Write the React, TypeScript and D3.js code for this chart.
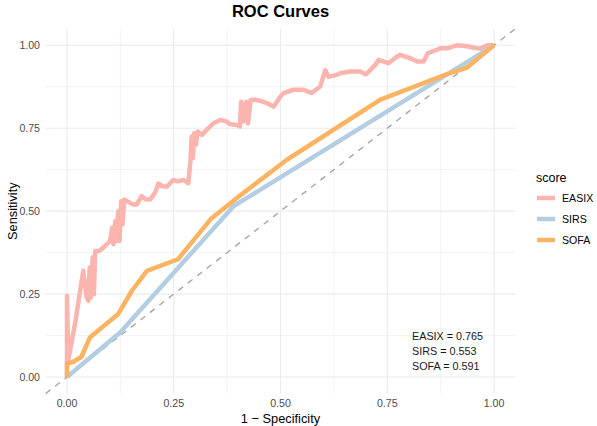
import React from "react";
import * as d3 from "d3";

const W = 597;
const H = 426;

const seriesNames = ["EASIX", "SIRS", "SOFA"];
const seriesColors = ["#FBB4AE", "#B3CDE3", "#FDB462"];
const aucLabels = ["EASIX = 0.765", "SIRS = 0.553", "SOFA = 0.591"];
const tickValues = [0, 0.25, 0.5, 0.75, 1];
const tickLabels = ["0.00", "0.25", "0.50", "0.75", "1.00"];
const minorValues = [0.125, 0.375, 0.625, 0.875];

// [1 - specificity, sensitivity]
const easixPoints: [number, number][] = [
  [0, 0], [0, 0.245], [0.003, 0.05], [0.02, 0.17], [0.038, 0.32], [0.046, 0.24],
  [0.05, 0.23], [0.053, 0.33], [0.056, 0.24], [0.06, 0.36], [0.063, 0.25],
  [0.066, 0.38], [0.075, 0.38], [0.085, 0.39], [0.093, 0.4], [0.101, 0.41],
  [0.106, 0.45], [0.109, 0.4], [0.113, 0.47], [0.116, 0.41], [0.12, 0.5],
  [0.123, 0.41], [0.127, 0.53], [0.13, 0.46], [0.134, 0.535], [0.148, 0.525],
  [0.155, 0.52], [0.163, 0.52], [0.175, 0.545], [0.185, 0.535], [0.195, 0.535],
  [0.206, 0.555], [0.214, 0.583], [0.224, 0.575], [0.234, 0.574], [0.249, 0.594],
  [0.26, 0.59], [0.273, 0.594], [0.284, 0.584], [0.289, 0.65], [0.292, 0.725],
  [0.295, 0.66], [0.298, 0.735], [0.302, 0.7], [0.306, 0.74], [0.316, 0.73],
  [0.327, 0.745], [0.343, 0.765], [0.359, 0.775], [0.374, 0.77], [0.382, 0.762],
  [0.398, 0.76], [0.405, 0.755], [0.408, 0.83], [0.413, 0.77], [0.42, 0.83],
  [0.424, 0.765], [0.43, 0.835], [0.44, 0.836], [0.455, 0.832], [0.468, 0.826],
  [0.484, 0.815], [0.5, 0.846], [0.507, 0.856], [0.53, 0.866], [0.554, 0.866],
  [0.573, 0.856], [0.593, 0.876], [0.605, 0.925], [0.612, 0.905], [0.632, 0.911],
  [0.64, 0.916], [0.663, 0.921], [0.687, 0.921], [0.7, 0.912], [0.722, 0.941],
  [0.73, 0.956], [0.753, 0.946], [0.773, 0.966], [0.78, 0.971], [0.804, 0.961],
  [0.82, 0.951], [0.835, 0.951], [0.845, 0.976], [0.866, 0.986], [0.874, 0.991],
  [0.89, 0.991], [0.913, 1.0], [0.937, 0.997], [0.96, 0.991], [0.968, 0.99],
  [0.984, 1.0], [1, 1],
];

const sirsPoints: [number, number][] = [
  [0, 0], [0.125, 0.135], [0.39, 0.515], [1, 1],
];

const sofaPoints: [number, number][] = [
  [0, 0], [0, 0.04], [0.015, 0.046], [0.034, 0.061], [0.054, 0.12], [0.12, 0.19],
  [0.152, 0.26], [0.187, 0.32], [0.26, 0.355], [0.338, 0.478], [0.398, 0.54],
  [0.515, 0.655], [0.734, 0.836], [0.89, 0.913], [0.937, 0.933], [1, 1],
];

const allSeries = [easixPoints, sirsPoints, sofaPoints];

const FONT = "'Liberation Sans', Arial, Helvetica, sans-serif";

export default function App() {
  const x = d3.scaleLinear().domain([0, 1]).range([67, 494]);
  const y = d3.scaleLinear().domain([0, 1]).range([377, 45.3]);
  const xMin = x(-0.05), xMax = x(1.05);
  const yMin = y(-0.05), yMax = y(1.05);

  const line = d3
    .line<[number, number]>()
    .x((d) => x(d[0]))
    .y((d) => y(d[1]));

  const cx = (xMin + xMax) / 2;
  const cy = (yMin + yMax) / 2;

  return (
    <svg width={W} height={H} style={{ position: "absolute", left: 0, top: 0, background: "#fff" }} fontFamily={FONT}>
      <rect x={0} y={0} width={W} height={H} fill="#fff" />
      {/* minor grid */}
      {minorValues.map((v) => (
        <g key={"mn" + v}>
          <line x1={x(v)} x2={x(v)} y1={yMin} y2={yMax} stroke="#EBEBEB" strokeWidth={0.6} />
          <line x1={xMin} x2={xMax} y1={y(v)} y2={y(v)} stroke="#EBEBEB" strokeWidth={0.6} />
        </g>
      ))}
      {/* major grid */}
      {tickValues.map((v) => (
        <g key={"mj" + v}>
          <line x1={x(v)} x2={x(v)} y1={yMin} y2={yMax} stroke="#EBEBEB" strokeWidth={1.1} />
          <line x1={xMin} x2={xMax} y1={y(v)} y2={y(v)} stroke="#EBEBEB" strokeWidth={1.1} />
        </g>
      ))}
      {/* diagonal */}
      <line
        x1={x(-0.05)} y1={y(-0.05)} x2={x(1.05)} y2={y(1.05)}
        stroke="#A6A6A6" strokeWidth={1.4} strokeDasharray="6 6"
      />
      {/* curves */}
      {allSeries.map((pts, i) => (
        <path
          key={seriesNames[i]}
          d={line(pts) || ""}
          fill="none"
          stroke={seriesColors[i]}
          strokeWidth={4.5}
          strokeLinejoin="round"
          strokeLinecap="butt"
        />
      ))}
      {/* tick labels */}
      {tickValues.map((v, i) => (
        <text key={"xt" + v} x={x(v)} y={407} textAnchor="middle" fontSize={10.6} fill="#4D4D4D">
          {tickLabels[i]}
        </text>
      ))}
      {tickValues.map((v, i) => (
        <text key={"yt" + v} x={40} y={y(v) + 3.8} textAnchor="end" fontSize={10.6} fill="#4D4D4D">
          {tickLabels[i]}
        </text>
      ))}
      {/* axis titles */}
      <text x={cx} y={423} textAnchor="middle" fontSize={12.8} fill="#000">
        1 − Specificity
      </text>
      <text
        transform={`translate(17,${cy}) rotate(-90)`}
        textAnchor="middle"
        fontSize={12.8}
        fill="#000"
      >
        Sensitivity
      </text>
      {/* title */}
      <text x={cx} y={17} textAnchor="middle" fontSize={16.5} fontWeight="bold" fill="#000">
        ROC Curves
      </text>
      {/* annotation */}
      {aucLabels.map((t, i) => (
        <text key={t} x={412} y={340 + i * 15.2} fontSize={10.8} fill="#1a1a1a">
          {t}
        </text>
      ))}
      {/* legend */}
      <text x={536} y={181.5} fontSize={12.5} fill="#000">
        score
      </text>
      {seriesNames.map((s, i) => (
        <g key={"lg" + s}>
          <line x1={537} x2={555} y1={198 + i * 21} y2={198 + i * 21} stroke={seriesColors[i]} strokeWidth={4.5} />
          <text x={562} y={198 + i * 21 + 3.8} fontSize={10.6} fill="#000">
            {s}
          </text>
        </g>
      ))}
    </svg>
  );
}
